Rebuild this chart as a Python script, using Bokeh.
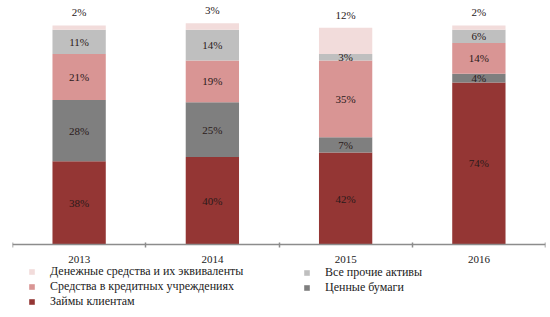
import numpy as np
from bokeh.plotting import figure
from bokeh.models import ColumnDataSource, Range1d, FixedTicker, Legend, LegendItem
from bokeh.core.properties import value
from bokeh.embed import file_html
from bokeh.resources import INLINE

years = ["2013", "2014", "2015", "2016"]
loans = [38, 40, 42, 74]          # Займы клиентам
securities = [28, 25, 7, 4]       # Ценные бумаги
bank_funds = [21, 19, 35, 14]     # Средства в кредитных учреждениях
other = [11, 14, 3, 6]            # Все прочие активы
cash = [2, 3, 12, 2]              # Денежные средства и их эквиваленты

series = [
    ("Займы клиентам", loans, "#943634"),
    ("Ценные бумаги", securities, "#7f7f7f"),
    ("Средства в кредитных учреждениях", bank_funds, "#d99594"),
    ("Все прочие активы", other, "#bfbfbf"),
    ("Денежные средства и их эквиваленты", cash, "#f2dcdb"),
]

FONT = value("Liberation Serif")
xs = np.arange(len(years)) + 0.5

p = figure(width=546, height=313, output_backend="svg", toolbar_location=None,
           x_range=Range1d(0, len(years)), y_range=Range1d(-31.5, 111.4),
           min_border_left=12, min_border_right=1, min_border_top=0, min_border_bottom=0)
p.outline_line_color = None
p.grid.visible = False
p.yaxis.visible = False

renderers = {}
bottom = np.zeros(len(years))
for i, (name, vals, color) in enumerate(series):
    vals = np.array(vals, dtype=float)
    top = bottom + vals
    src = ColumnDataSource(dict(x=xs, bottom=bottom, top=top, mid=(bottom + top) / 2,
                                lab=[f"{v:.0f}%" for v in vals]))
    r = p.vbar(x="x", bottom="bottom", top="top", width=0.4, source=src,
               fill_color=color, line_color=None)
    renderers[name] = r
    if i < len(series) - 1:
        p.text(x="x", y="mid", text="lab", source=src, text_font=FONT,
               text_font_size="11px", text_color="#2a1a1a",
               text_align="center", text_baseline="middle")
    else:
        p.text(x="x", y="top", text="lab", source=src, text_font=FONT,
               text_font_size="11px", text_color="#2a1a1a",
               text_align="center", text_baseline="bottom", y_offset=-7)
    bottom = top

ax = p.xaxis[0]
ax.fixed_location = 0
ax.ticker = FixedTicker(ticks=list(xs), minor_ticks=list(range(len(years) + 1)))
ax.major_label_overrides = {float(x): y for x, y in zip(xs, years)}
ax.major_tick_out = 0
ax.major_tick_in = 0
ax.minor_tick_out = 3
ax.minor_tick_in = 2
ax.minor_tick_line_color = "#8c8c8c"
ax.axis_line_color = "#8c8c8c"
ax.axis_line_width = 1.5
ax.minor_tick_line_width = 1.5
ax.major_label_text_font = "Liberation Serif"
ax.major_label_text_font_size = "11px"
ax.major_label_text_color = "#222222"
ax.major_label_standoff = 8


def make_legend(names, loc):
    lg = Legend(items=[LegendItem(label=n, renderers=[renderers[n]]) for n in names],
                location=loc, orientation="vertical")
    lg.label_text_font = "'Liberation Serif'"
    lg.label_text_font_size = "12px"
    lg.label_text_color = "#222222"
    lg.glyph_width = 7
    lg.glyph_height = 7
    lg.label_height = 12
    lg.label_standoff = 15
    lg.spacing = 0
    lg.padding = 0
    lg.margin = 0
    lg.border_line_color = None
    lg.background_fill_alpha = 0
    return lg


p.add_layout(make_legend(["Денежные средства и их эквиваленты",
                          "Средства в кредитных учреждениях",
                          "Займы клиентам"], (16, 4)))
p.add_layout(make_legend(["Все прочие активы", "Ценные бумаги"], (291, 18)))

open("out.html", "w").write(file_html(p, INLINE))
